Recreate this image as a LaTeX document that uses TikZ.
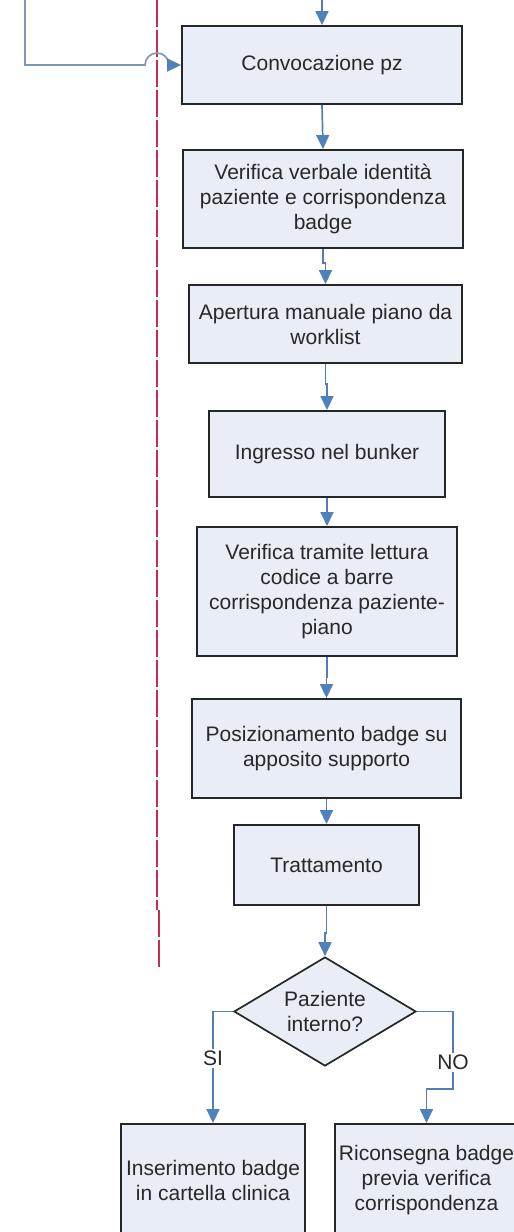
\documentclass[tikz,border=0pt]{standalone}
\usepackage{fontspec}
\setmainfont{Liberation Sans}
\usetikzlibrary{shapes.geometric,arrows.meta}
\definecolor{boxfill}{RGB}{232,237,246}
\definecolor{boxline}{RGB}{38,38,38}
\definecolor{flow}{RGB}{84,124,182}
\definecolor{flowtip}{RGB}{79,129,189}
\definecolor{loopline}{RGB}{128,150,184}
\definecolor{lane}{RGB}{200,46,78}
\definecolor{txt}{RGB}{40,40,40}
\begin{document}
\begin{tikzpicture}[x=1pt,y=-1pt,
  every node/.style={font=\fontsize{21}{25}\selectfont, text=txt},
  stepbox/.style={draw=boxline, line width=1.9pt, fill=boxfill, align=center, inner sep=0pt},
  choice/.style={draw=boxline, line width=1.7pt, fill=boxfill, align=center, shape=diamond, inner sep=0pt, shape aspect=1.67, minimum width=182, minimum height=109},
  flowline/.style={draw=flow, line width=1.7pt, -{Triangle[length=14pt,width=13pt,fill=flowtip,color=flowtip]}},
  branchlabel/.style={fill=white, inner sep=2pt}
]
\useasboundingbox (0,0) rectangle (514,1232);
\clip (0,0) rectangle (514,1232);

% swimlane separator
\draw[lane, line width=1.4pt, dash pattern=on 27pt off 3pt] (157,0) -- (157,910);
\draw[lane, line width=1.4pt, dash pattern=on 27pt off 3pt] (159,910) -- (159,967);

% process steps
\node[stepbox, minimum width=280, minimum height=78] (c1) at (322,65) {Convocazione pz};
\node[stepbox, minimum width=280, minimum height=98] (c2) at (323,199) {Verifica verbale identità\\paziente e corrispondenza\\badge};
\node[stepbox, minimum width=273, minimum height=78] (c3) at (325.5,324) {Apertura manuale piano da\\worklist};
\node[stepbox, minimum width=236, minimum height=86] (c4) at (327,454) {Ingresso nel bunker};
\node[stepbox, minimum width=260, minimum height=129] (c5) at (327,591.5) {Verifica tramite lettura\\codice a barre\\corrispondenza paziente-\\piano};
\node[stepbox, minimum width=269, minimum height=99] (c6) at (326.5,748.5) {Posizionamento badge su\\apposito supporto};
\node[stepbox, minimum width=185, minimum height=80] (c7) at (326.5,865) {Trattamento};
\node[choice] (d) at (325,1011.5) {Paziente\\interno?};
\node[stepbox, minimum width=184, minimum height=112] (s) at (213,1180) {Inserimento badge\\in cartella clinica};
\node[stepbox, minimum width=183, minimum height=112] (n) at (426.5,1180) {Riconsegna badge\\previa verifica\\corrispondenza};

% incoming connectors
\coordinate (top) at (322,0);
\coordinate (loopstart) at (25,0);
\draw[flowline] (top) -- (c1.north);
\draw[draw=loopline, line width=1.7pt, -{Triangle[length=14pt,width=13pt,fill=flowtip,color=flowtip]}]
  (loopstart) -- (25,65) -- (145,65) arc[start angle=180, end angle=360, radius=12] -- (c1.west);

% main sequence
\draw[flowline] (c1.south) -- (c2.north);
\draw[flowline] (c2.south) -- ++(0,14) -| (c3.north);
\draw[flowline] (c3.south) -- ++(0,20) -| (c4.north);
\draw[flowline] (c4.south) -- ++(0,12) -| (c5.north);
\draw[flowline] (c5.south) -- ++(0,20) -| (c6.north);
\draw[flowline] (c6.south) -- ++(0,12) -| (c7.north);
\draw[flowline] (c7.south) -- ++(0,27) -| (d.north);

% decision branches
\draw[flowline] (d.west) -| (s.north) node[pos=0.71, branchlabel] {SI};
\coordinate (nobend) at (453,1089);
\draw[flowline] (d.east) -| (nobend) node[pos=0.83, branchlabel] {NO} -| (n.north);
\end{tikzpicture}
\end{document}
